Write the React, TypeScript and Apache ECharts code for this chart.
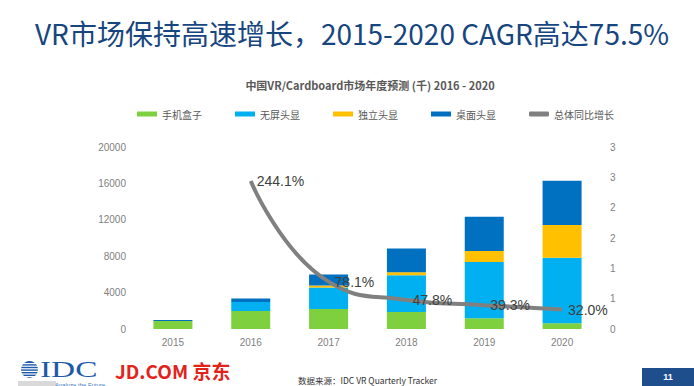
import React, { useEffect, useRef } from "react";
import * as echarts from "echarts";

const years = ["2015", "2016", "2017", "2018", "2019", "2020"];
const phoneBox = [880, 1970, 2190, 1860, 1170, 620];
const screenlessHmd = [0, 990, 2380, 4060, 6180, 7200];
const standaloneHmd = [0, 0, 200, 330, 1210, 3620];
const desktopHmd = [100, 400, 1220, 2600, 3780, 4840];
const yoyGrowth: (number | string)[] = ["-", 2.441, 0.781, 0.478, 0.393, 0.32];

const seriesNames = ["手机盒子", "无屏头显", "独立头显", "桌面头显", "总体同比增长"];
const colors = ["#7ed03e", "#00b0f0", "#ffc000", "#0070c0", "#808080"];

const pageTitle = "VR市场保持高速增长，2015-2020 CAGR高达75.5%";
const chartTitle = "中国VR/Cardboard市场年度预测 (千) 2016 - 2020";
const sourceText = "数据来源：IDC VR Quarterly Tracker";

export default function App() {
  const ref = useRef<HTMLDivElement>(null);
  useEffect(() => {
    document.body.style.margin = "0";
    const chart = echarts.init(ref.current!, null, { renderer: "svg" });
    const font = "'Liberation Sans', 'Noto Sans CJK SC', sans-serif";
    const barSeries = [phoneBox, screenlessHmd, standaloneHmd, desktopHmd].map((d, i) => ({
      name: seriesNames[i],
      type: "bar",
      stack: "total",
      barWidth: 39,
      data: d,
      itemStyle: { color: colors[i] },
      z: 2,
    }));
    const stripes = [0, 1, 2, 3, 4, 5].map((k) => ({
      type: "rect",
      shape: { x: 20, y: 363 + k * 2.6, width: 19, height: 1.2 },
      style: { fill: "#ffffff" },
      z: 101,
    }));
    const serif = "'Liberation Serif', 'DejaVu Serif', serif";
    chart.setOption({
      animation: false,
      backgroundColor: "#ffffff",
      textStyle: { fontFamily: font },
      grid: { left: 134, right: 93, top: 147, bottom: 57 },
      legend: {
        left: 132,
        top: 104,
        itemWidth: 20,
        itemHeight: 5,
        itemGap: 33,
        textStyle: { color: "#595959", fontSize: 10, fontFamily: "'Noto Sans CJK SC', sans-serif" },
        data: seriesNames.map((n, i) => ({ name: n, icon: i === 4 ? "roundRect" : "rect" })),
      },
      xAxis: {
        type: "category",
        data: years,
        axisLine: { show: false },
        axisTick: { show: false },
        axisLabel: { color: "#7f7f7f", fontSize: 10, margin: 8 },
      },
      yAxis: [
        {
          type: "value",
          min: 0,
          max: 20000,
          interval: 4000,
          splitLine: { show: false },
          axisLine: { show: false },
          axisTick: { show: false },
          axisLabel: { color: "#7f7f7f", fontSize: 10, margin: 8, formatter: (v: number) => String(v) },
        },
        {
          type: "value",
          min: 0,
          max: 3,
          interval: 0.5,
          splitLine: { show: false },
          axisLine: { show: false },
          axisTick: { show: false },
          axisLabel: {
            color: "#7f7f7f",
            fontSize: 10,
            margin: 9,
            formatter: (v: number) => String(Math.round(v)),
          },
        },
      ],
      series: [
        ...barSeries,
        {
          name: seriesNames[4],
          type: "line",
          yAxisIndex: 1,
          data: yoyGrowth,
          smooth: 0.5,
          symbol: "circle",
          symbolSize: 0,
          showSymbol: true,
          itemStyle: { color: colors[4] },
          lineStyle: { color: colors[4], width: 4 },
          z: 5,
          label: {
            show: true,
            position: "right",
            distance: 6,
            color: "#404040",
            fontSize: 14,
            formatter: (p: any) => (p.value * 100).toFixed(1) + "%",
          },
        },
      ],
      graphic: [
        {
          type: "text",
          left: 35,
          top: 19,
          style: {
            text: pageTitle,
            fill: "#17467f",
            fontSize: 28,
            fontFamily: "'Noto Sans CJK SC', sans-serif",
          },
        },
        {
          type: "text",
          x: 370,
          y: 85,
          style: {
            text: chartTitle,
            fill: "#595959",
            fontSize: 11,
            fontWeight: "bold",
            align: "center",
            verticalAlign: "middle",
            fontFamily: "'Noto Sans CJK SC', sans-serif",
          },
        },
        {
          type: "circle",
          shape: { cx: 29.5, cy: 369.5, r: 8.5 },
          style: { fill: "#1d5aa8" },
          z: 100,
        },
        ...stripes,
        {
          type: "rect",
          shape: { x: 18, y: 381, width: 38, height: 5 },
          style: { fill: "#d9d9d9" },
          z: 100,
        },
        {
          type: "text",
          x: 40,
          y: 369,
          scaleX: 1.45,
          style: { text: "IDC", fill: "#1d5aa8", fontSize: 23, fontFamily: serif, verticalAlign: "middle" },
          z: 100,
        },
        { type: "text", x: 55, y: 384.5, style: { text: "Analyze the Future", fill: "#3a78c2", fontSize: 6, verticalAlign: "middle" }, z: 100 },
        {
          type: "text",
          x: 115,
          y: 370,
          style: {
            text: "JD.COM 京东",
            fill: "#e2231a",
            fontSize: 19,
            fontWeight: "bold",
            verticalAlign: "middle",
            fontFamily: "'Noto Sans CJK SC', sans-serif",
          },
          z: 100,
        },
        {
          type: "text",
          x: 298,
          y: 380,
          style: {
            text: sourceText,
            fill: "#333333",
            fontSize: 8.5,
            verticalAlign: "middle",
            fontFamily: "'Noto Sans CJK SC', sans-serif",
          },
          z: 100,
        },
        {
          type: "rect",
          shape: { x: 642, y: 368, width: 52, height: 18 },
          style: { fill: "#1f4e8c" },
          z: 100,
        },
        {
          type: "text",
          x: 668,
          y: 377,
          style: { text: "11", fill: "#ffffff", fontSize: 9, fontWeight: "bold", align: "center", verticalAlign: "middle" },
          z: 101,
        },
      ],
    });
    return () => chart.dispose();
  }, []);
  return <div ref={ref} style={{ width: 694, height: 386, position: "absolute", left: 0, top: 0 }} />;
}
